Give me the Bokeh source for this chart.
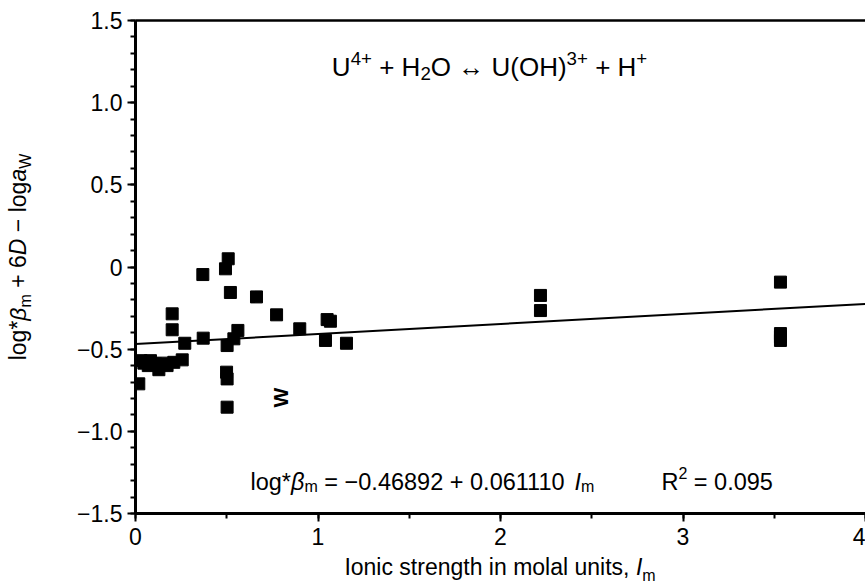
import math
import numpy as np
from bokeh.plotting import figure
from bokeh.models import (Range1d, LinearAxis, FixedTicker, CustomJSTickFormatter,
                          Label, ColumnDataSource, Div)
from bokeh.layouts import row, column
from bokeh.core.properties import value
from bokeh.embed import file_html
from bokeh.resources import INLINE

# ---------------- data ----------------
ionic_strength = [0.018, 0.030, 0.046, 0.070, 0.082, 0.110, 0.128, 0.150, 0.173, 0.210, 0.256,
                  0.201, 0.201, 0.270, 0.369, 0.371,
                  0.508, 0.493, 0.520, 0.663, 0.773, 0.900,
                  1.050, 1.068, 1.041, 1.156,
                  0.502, 0.539, 0.561, 0.499, 0.502, 0.502,
                  2.219, 2.219,
                  3.534, 3.534, 3.534, 3.534]
log_beta = [-0.711, -0.570, -0.585, -0.600, -0.570, -0.590, -0.625, -0.585, -0.600, -0.580, -0.565,
            -0.285, -0.382, -0.464, -0.046, -0.433,
            0.050, -0.011, -0.155, -0.182, -0.291, -0.376,
            -0.320, -0.330, -0.447, -0.464,
            -0.478, -0.437, -0.386, -0.640, -0.681, -0.853,
            -0.173, -0.265,
            -0.092, -0.405, -0.425, -0.447]

fit_intercept = -0.46892
fit_slope = 0.061110
fit_x = [0.0, 4.0]

x_ticks = [0, 1, 2, 3, 4]
x_tick_labels = ["0", "1", "2", "3", "4"]
y_ticks = [-1.5, -1.0, -0.5, 0.0, 0.5, 1.0, 1.5]
y_tick_labels = ["\u22121.5", "\u22121.0", "\u22120.5", "0", "0.5", "1.0", "1.5"]

stray_mark_x = [0.795]
stray_mark_y = [-0.794]

FONT = "Liberation Sans"

LEFT_W = 45
BOTTOM_H = 35

# ---------------- figure ----------------
p = figure(width=865 - LEFT_W, height=586 - BOTTOM_H, output_backend="svg", toolbar_location=None,
           x_range=Range1d(0, 4.0), y_range=Range1d(-1.5, 1.5),
           min_border_left=135 - LEFT_W, min_border_right=0, min_border_top=20,
           min_border_bottom=38,
           x_axis_location="below", y_axis_location="left", margin=(0, 0, 0, 0))
p.outline_line_color = None
p.xgrid.visible = False
p.ygrid.visible = False
p.background_fill_color = "white"
p.border_fill_color = "white"

fmt_js = """
const i = tk.findIndex(t => Math.abs(t - tick) < 1e-9);
return i >= 0 ? lb[i] : '';
"""

xa = p.xaxis[0]
xa.ticker = FixedTicker(ticks=x_ticks, minor_ticks=list(np.arange(0, 4.01, 0.5)))
xa.formatter = CustomJSTickFormatter(args=dict(tk=x_ticks, lb=x_tick_labels), code=fmt_js)
ya = p.yaxis[0]
ya.ticker = FixedTicker(ticks=y_ticks, minor_ticks=list(np.round(np.arange(-1.5, 1.501, 0.1), 2)))
ya.formatter = CustomJSTickFormatter(args=dict(tk=y_ticks, lb=y_tick_labels), code=fmt_js)

for ax in (xa, ya):
    ax.axis_line_width = 3
    ax.axis_line_color = "black"
    ax.major_tick_line_width = 2
    ax.minor_tick_line_width = 2
    ax.major_tick_line_color = "black"
    ax.minor_tick_line_color = "black"
    ax.major_tick_out = 8
    ax.major_tick_in = 0
    ax.minor_tick_out = 5
    ax.minor_tick_in = 0
    ax.major_label_text_font = FONT
    ax.major_label_text_font_size = "23px"
    ax.major_label_text_color = "black"
xa.major_label_standoff = 6
ya.major_label_standoff = 5

top = LinearAxis(axis_line_width=2.5, axis_line_color="black",
                 ticker=FixedTicker(ticks=[], minor_ticks=[]),
                 major_tick_line_color=None, minor_tick_line_color=None,
                 major_label_standoff=0, major_tick_out=0, minor_tick_out=0)
p.add_layout(top, "above")

# ---------------- data glyphs ----------------
src = ColumnDataSource(dict(x=ionic_strength, y=log_beta))
p.scatter("x", "y", source=src, marker="square", size=12, fill_color="black", line_color="black")

fit_y = [fit_intercept + fit_slope * v for v in fit_x]
p.line(fit_x, fit_y, line_color="black", line_width=2)

p.text(x=stray_mark_x, y=stray_mark_y, text=["W"], angle=math.pi / 2,
       text_font=value(FONT), text_font_size="21px", text_font_style="bold",
       text_align="center", text_baseline="middle", text_color="black")

# ---------------- rich text helper (inside the frame) ----------------
W = {' ': 278, '!': 278, '(': 333, ')': 333, '*': 389, '+': 584, ',': 278, '-': 333, '.': 278,
     '=': 584, 'D': 722, 'H': 722, 'I': 278, 'O': 778, 'R': 722, 'U': 722, 'W': 944,
     'a': 556, 'c': 500, 'e': 556, 'g': 556, 'h': 556, 'i': 222, 'l': 222, 'm': 833,
     'n': 556, 'o': 556, 'r': 333, 's': 500, 't': 278, 'u': 556, '\u2212': 584,
     '\u2194': 1000, '\u03b2': 575}
for d in "0123456789":
    W[d] = 556


def tw(t, size):
    return sum(W.get(c, 556) for c in t) / 1000.0 * size


def rich(x, y, pieces, size, align="center"):
    widths = [tw(t, size * rs) for t, rs, it, sh in pieces]
    total = sum(widths)
    d = -total / 2 if align == "center" else 0.0
    for (t, rs, it, sh), w in zip(pieces, widths):
        s = size * rs
        lead = tw(t[:len(t) - len(t.lstrip(' '))], s)
        txt = t.strip(' ')
        if txt:
            p.add_layout(Label(x=x, y=y, text=txt, x_offset=d + lead, y_offset=sh * size,
                               text_font=FONT, text_font_size=f"{s:.1f}px",
                               text_font_style="italic" if it else "normal",
                               text_align="left", text_baseline="alphabetic",
                               text_color="black"))
        d += w


SUP, SUB = 0.36, -0.22
# reaction title
rich(1.94, 1.214, [("U", 1, False, 0), ("4+", 0.72, False, SUP), (" + H", 1, False, 0),
                   ("2", 0.72, False, SUB), ("O", 1, False, 0), (" \u2194 ", 1, False, 0),
                   ("U(OH)", 1, False, 0), ("3+", 0.72, False, SUP), (" + H", 1, False, 0),
                   ("+", 0.72, False, SUP)], 26)
# regression equation
rich(0.63, -1.306, [("log*", 1, False, 0), ("\u03b2", 1, True, 0), ("m", 0.68, False, SUB),
                    (" = \u22120.46892 + 0.061110 ", 1, False, 0), ("I", 1, True, 0),
                    ("m", 0.68, False, SUB)], 23.5, align="left")
rich(2.882, -1.306, [("R", 1, False, 0), ("2", 0.68, False, SUP), (" = 0.095", 1, False, 0)],
     23.5, align="left")

# ---------------- axis titles (HTML, outside the frame) ----------------
TXT = "font-family:'Liberation Sans'; font-size:23px; color:black; white-space:nowrap;"
x_title_html = (
    f'<div style="position:relative; width:{865 - LEFT_W}px; height:{BOTTOM_H}px;">'
    f'<div style="position:absolute; left:{135 - LEFT_W}px; width:730px; top:5px; '
    f'text-align:center; line-height:23px; {TXT}">'
    'Ionic strength in molal units, <i>I</i><sub style="font-size:16px;">m</sub></div></div>'
)
y_title_html = (
    f'<div style="position:relative; width:{LEFT_W}px; height:586px;">'
    f'<div style="position:absolute; left:22px; top:257px; '
    f'transform:translate(-50%,-50%) rotate(-90deg); line-height:23px; {TXT}">'
    'log*<i>\u03b2</i><sub style="font-size:16px;">m</sub> + 6<i>D</i> \u2212 log<i>a</i>'
    '<sub style="font-size:16px;">W</sub></div></div>'
)
x_title = Div(text=x_title_html, width=865 - LEFT_W, height=BOTTOM_H, margin=(0, 0, 0, 0))
y_title = Div(text=y_title_html, width=LEFT_W, height=586, margin=(0, 0, 0, 0))

layout = row(y_title, column(p, x_title, spacing=0), spacing=0)

open("out.html", "w").write(file_html(layout, INLINE))
